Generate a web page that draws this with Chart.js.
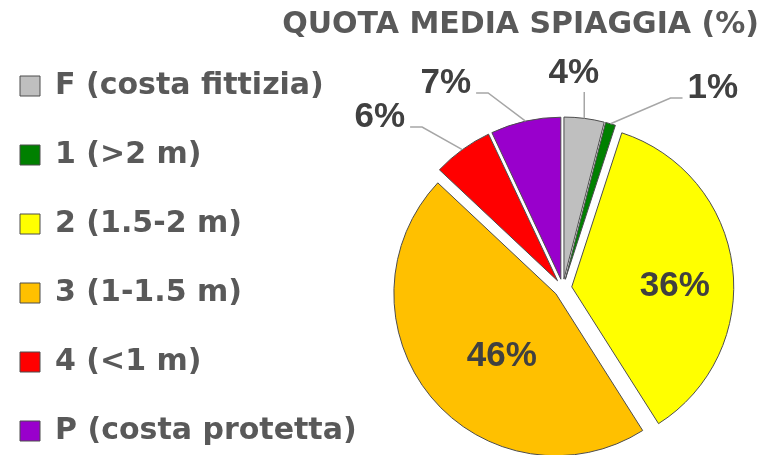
<!DOCTYPE html>
<html lang="it">
<head>
    <meta charset="UTF-8">
    <title>Quota media spiaggia</title>
    <script src="https://cdn.jsdelivr.net/npm/chart.js"></script>
    <style>
        body {
            margin: 0;
            background: #fff;
        }

        /* canvas is a bit taller than the window so the legend can keep its spacing */
        .frame {
            width: 766px;
            height: 455px;
            overflow: hidden;
        }
    </style>
</head>
<body>
    <div class="frame"><canvas id="quotaChart" width="766" height="485"></canvas></div>

    <script>
        const categories = ['F (costa fittizia)', '1 (>2 m)', '2 (1.5-2 m)', '3 (1-1.5 m)', '4 (<1 m)', 'P (costa protetta)'];
        const shares = [4, 1, 36, 46, 6, 7];
        const sliceColors = ['#BFBFBF', '#008000', '#FFFF00', '#FFC000', '#FF0000', '#9900CC'];

        // where the % labels sit, relative to the pie centre (px), and which way the leader goes
        const labelDX = [11, 150, 112, -61, -183, -117];
        const labelDY = [-215, -200, -2, 68, -171, -205];
        const leaderSide = ['up', 'right', '', '', 'left', 'left'];

        const explode = 9; // every slice pulled out a little, like the excel original

        const explodePlugin = {
            id: 'explode',
            afterDatasetUpdate(chart, args) {
                args.meta.data.forEach(arc => {
                    const mid = (arc.startAngle + arc.endAngle) / 2;
                    arc.x += Math.cos(mid) * explode;
                    arc.y += Math.sin(mid) * explode;
                });
            }
        };

        const labelPlugin = {
            id: 'sliceLabels',
            afterDatasetsDraw(chart) {
                const ctx = chart.ctx;
                const area = chart.chartArea;
                const cx = (area.left + area.right) / 2;
                const cy = (area.top + area.bottom) / 2;

                ctx.save();
                ctx.font = 'bold 35px "Liberation Sans", Arial, sans-serif';
                ctx.textAlign = 'center';
                ctx.textBaseline = 'middle';
                ctx.strokeStyle = '#a6a6a6';
                ctx.lineWidth = 1.5;

                chart.getDatasetMeta(0).data.forEach((arc, i) => {
                    const text = shares[i] + '%';
                    const lx = cx + labelDX[i];
                    const ly = cy + labelDY[i];
                    const side = leaderSide[i];

                    if (side) {
                        const mid = (arc.startAngle + arc.endAngle) / 2;
                        const ax = arc.x + Math.cos(mid) * arc.outerRadius;
                        const ay = arc.y + Math.sin(mid) * arc.outerRadius;
                        const half = ctx.measureText(text).width / 2;
                        ctx.beginPath();
                        ctx.moveTo(ax, ay);
                        if (side === 'up') {
                            ctx.lineTo(ax, ly + 19);
                        } else {
                            const dir = side === 'left' ? 1 : -1;
                            const ex = lx + dir * (half + 5);
                            ctx.lineTo(ex + dir * 12, ly + 10);
                            ctx.lineTo(ex, ly + 10);
                        }
                        ctx.stroke();
                    }

                    ctx.fillStyle = '#404040';
                    ctx.fillText(text, lx, ly);
                });
                ctx.restore();
            }
        };

        const textFont = { family: 'DejaVu Sans', size: 30, weight: 'bold' };

        new Chart(document.getElementById('quotaChart'), {
            type: 'pie',
            data: {
                labels: categories,
                datasets: [{
                    data: shares,
                    backgroundColor: sliceColors,
                    borderColor: '#4d4d4d',
                    borderWidth: 1,
                    radius: 162
                }]
            },
            options: {
                responsive: false,
                animation: false,
                layout: {
                    padding: { left: -19, right: 7, top: 0, bottom: 0 }
                },
                plugins: {
                    title: {
                        display: true,
                        text: 'QUOTA MEDIA SPIAGGIA (%)',
                        align: 'end',
                        color: '#595959',
                        font: textFont,
                        padding: { top: 7, bottom: 48 }
                    },
                    legend: {
                        position: 'left',
                        align: 'end',
                        labels: {
                            boxWidth: 20,
                            boxHeight: 20,
                            padding: 39,
                            color: '#595959',
                            font: textFont
                        }
                    },
                    tooltip: { enabled: false }
                }
            },
            plugins: [explodePlugin, labelPlugin]
        });
    </script>
</body>
</html>
